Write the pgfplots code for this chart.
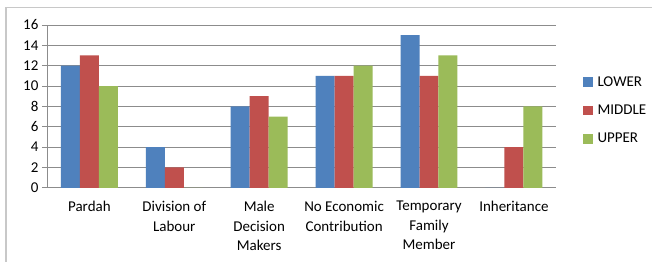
\documentclass[border=0pt]{standalone}
\usepackage{pgfplots}
\pgfplotsset{compat=1.18}
\usepackage{fontspec}
\setmainfont{Carlito}
\definecolor{xlblue}{HTML}{4F81BD}
\definecolor{xlred}{HTML}{C0504D}
\definecolor{xlgreen}{HTML}{9BBB59}
\definecolor{gridc}{HTML}{8C8C8C}
\definecolor{framec}{HTML}{C8C8C8}
\begin{document}
\begin{tikzpicture}[x=1pt,y=1pt]
\path[fill=white] (0,0) rectangle (653,262);
\draw[framec,line width=1.5pt] (6,0) -- (6,254.5) -- (653,254.5);
\begin{axis}[
  at={(47pt,74pt)}, anchor=south west,
  scale only axis, width=510pt, height=163pt,
  ybar=0pt, bar width=19pt,
  xmin=-0.5, xmax=5.5, ymin=0, ymax=16,
  ytick={0,2,...,16},
  xtick={0,1,2,3,4,5},
  xticklabels={Pardah, Division of\\Labour, Male\\Decision\\Makers, No Economic\\Contribution, Temporary\\Family\\Member, Inheritance},
  extra x ticks={-0.5,0.5,1.5,2.5,3.5,4.5,5.5},
  extra x tick labels={},
  extra x tick style={major tick length=5pt, tick pos=lower, tick align=outside, tick style={gridc, line width=0.8pt}, grid=none},
  x tick style={draw=none},
  y tick style={gridc, line width=0.8pt},
  tick align=outside, major tick length=5pt,
  axis x line*=bottom, axis y line*=left,
  axis line style={gridc, line width=0.8pt, -},
  ymajorgrids, grid style={gridc, line width=0.8pt},
  xticklabel style={align=center, font=\fontsize{15}{19.5}\selectfont, yshift=-5pt},
  yticklabel style={font=\fontsize{15}{17}\selectfont},
  /pgf/number format/assume math mode=true,
  legend style={at={(1.051,0.475)}, anchor=west, draw=none, fill=none,
    font=\fontsize{15}{17}\selectfont, row sep=13pt, inner sep=0pt},
  legend cell align=left,
  legend image code/.code={\fill[#1] (0pt,-5pt) rectangle (10pt,5pt); \path (13pt,0pt);},
]
\addplot[fill=xlblue, draw=none] coordinates {(0,12) (1,4) (2,8) (3,11) (4,15) (5,0)};
\addplot[fill=xlred, draw=none] coordinates {(0,13) (1,2) (2,9) (3,11) (4,11) (5,4)};
\addplot[fill=xlgreen, draw=none] coordinates {(0,10) (1,0) (2,7) (3,12) (4,13) (5,8)};
\legend{LOWER, MIDDLE, UPPER}
\end{axis}
\end{tikzpicture}
\end{document}
